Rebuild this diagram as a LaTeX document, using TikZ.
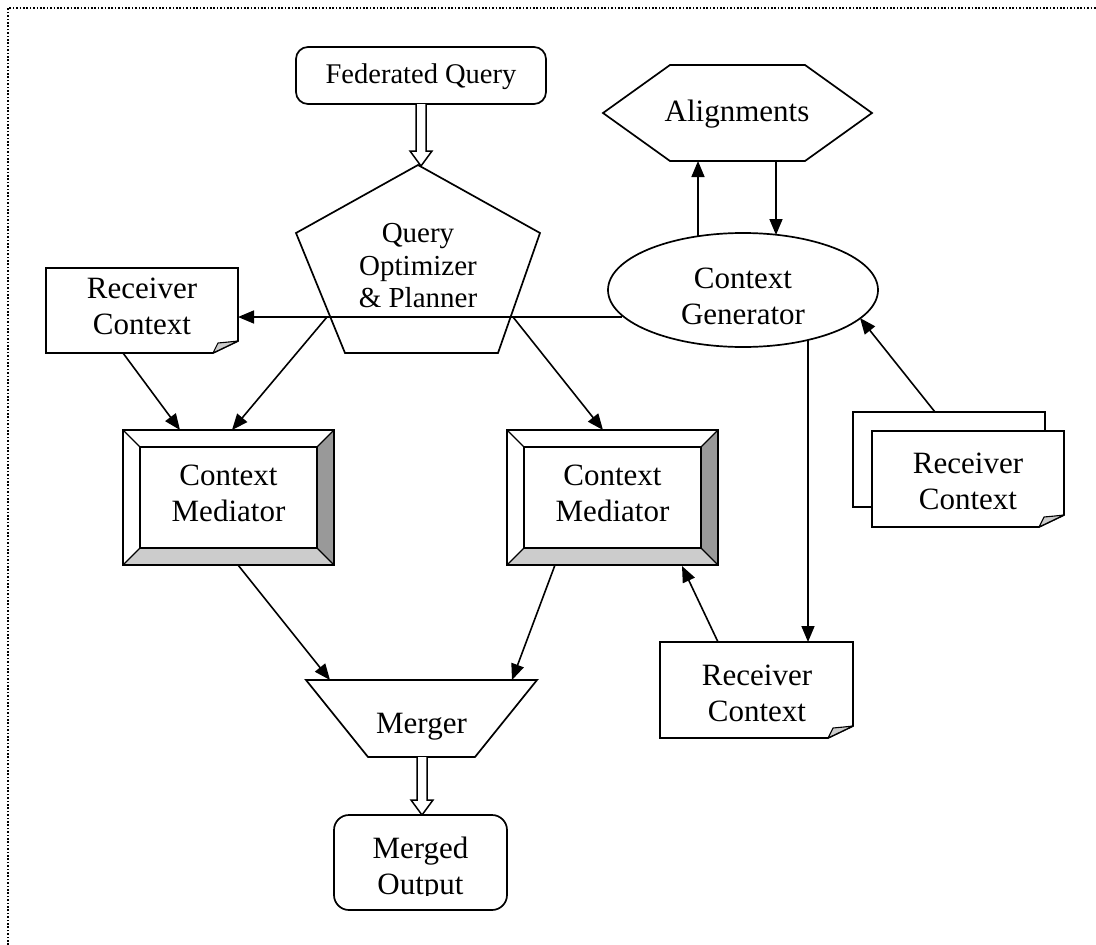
\documentclass[tikz,border=0pt]{standalone}
\usepackage{fontspec}
\setmainfont{Liberation Serif}
\usetikzlibrary{arrows.meta,calc}

\definecolor{bevdark}{gray}{0.6}
\definecolor{bevlight}{gray}{0.8}
\definecolor{foldgray}{gray}{0.8}

\tikzset{
  outline/.style={draw, line width=1.7pt, fill=white, line join=miter},
  lbl/.style={align=center, inner sep=0pt, font=\fontsize{31}{36}\selectfont},
  arr/.style={line width=1.6pt, -{Triangle[length=16pt,width=13pt]}},
  hollowtip/.style={draw, line width=1.5pt, fill=white, line join=miter},
  frame/.style={line width=1.6pt, dash pattern=on 1.6pt off 1.8pt},
}

% document symbol with a curled bottom-right corner: x1,y1,x2,y2
\newcommand\docsym[4]{%
  \filldraw[outline] (#1,#2) -- (#3,#2) -- (#3,#4-12) -- (#3-25,#4) -- (#1,#4) -- cycle;
  \filldraw[fill=foldgray, line width=1.1pt, line join=round]
    (#3-25,#4) -- (#3,#4-12) .. controls (#3-9,#4-11) .. (#3-20,#4-10) -- cycle;
}

% bevelled button frame: x1,y1,x2,y2 with a 17 unit bevel
\newcommand\bevelbox[4]{%
  \filldraw[outline] (#1,#2) rectangle (#3,#4);
  \fill[bevdark] (#3,#2) -- (#3,#4) -- (#3-17,#4-17) -- (#3-17,#2+17) -- cycle;
  \fill[bevlight] (#1,#4) -- (#3,#4) -- (#3-17,#4-17) -- (#1+17,#4-17) -- cycle;
  \draw[line width=1.7pt, line join=miter] (#1,#2) rectangle (#3,#4);
  \draw[line width=1.5pt] (#1+17,#2+17) rectangle (#3-17,#4-17);
  \draw[line width=1.3pt] (#1,#2) -- (#1+17,#2+17) (#3,#2) -- (#3-17,#2+17)
    (#1,#4) -- (#1+17,#4-17) (#3,#4) -- (#3-17,#4-17);
}

% hollow block arrow pointing down: x, y-start, y-tip
\newcommand\blockarrow[3]{%
  \filldraw[hollowtip] (#1-5,#2) -- (#1-5,#3-15) -- (#1-11,#3-15) -- (#1,#3)
    -- (#1+11,#3-15) -- (#1+5,#3-15) -- (#1+5,#2);
}

\begin{document}
\begin{tikzpicture}[x=1pt,y=-1pt]
\useasboundingbox (0,0) rectangle (1096,945);

% page frame
\draw[frame] (8,945) -- (8,8) -- (1096,8);

% Federated Query
\filldraw[outline, rounded corners=12pt] (296,47) rectangle (546,104);
\node[lbl, font=\fontsize{28.5}{33}\selectfont] (fq) at (421,77) {Federated Query};

% Query Optimizer & Planner
\filldraw[outline] (418,165) -- (540,233) -- (498,353) -- (345,353) -- (296,233) -- cycle;
\node[lbl, font=\fontsize{29}{32.5}\selectfont] (qo) at (418,266) {Query\\Optimizer\\\& Planner};
\blockarrow{421}{104}{166}

% Alignments
\filldraw[outline] (603,113) -- (670,65) -- (805,65) -- (872,113) -- (805,161) -- (670,161) -- cycle;
\node[lbl] (al) at (737,114) {Alignments};

% Context Generator
\filldraw[outline] (743,290) ellipse [x radius=135, y radius=57];
\node[lbl] (cg) at (743,296) {Context\\Generator};

% Receiver Context documents
\docsym{46}{268}{238}{353}
\node[lbl] (rc1) at (142,306) {Receiver\\Context};

\filldraw[outline] (853,412) rectangle (1045,507);
\docsym{872}{431}{1064}{527}
\node[lbl] (rc2) at (968,481) {Receiver\\Context};

\docsym{660}{642}{853}{738}
\node[lbl] (rc3) at (757,693) {Receiver\\Context};

% Context Mediators
\bevelbox{123}{430}{334}{565}
\node[lbl] (cm1) at (228.5,493) {Context\\Mediator};
\bevelbox{507}{430}{718}{565}
\node[lbl] (cm2) at (612.5,493) {Context\\Mediator};

% Merger
\filldraw[outline] (306,680) -- (537,680) -- (475,757) -- (368,757) -- cycle;
\begin{scope}
  \clip (300,680) rectangle (545,739);
  \node[lbl] (mg) at (421.5,727) {Merger};
\end{scope}
\blockarrow{422}{757}{815}

% Merged Output
\filldraw[outline, rounded corners=15pt] (334,815) rectangle (507,910);
\begin{scope}
  \clip (334,815) rectangle (507,895.5);
  \node[lbl] (mo) at (420.5,869) {Merged\\Output};
\end{scope}

% connection points
\coordinate (cg-l)  at (622,317);
\coordinate (rc1-r) at (238,317);
\coordinate (qo-bl) at (327,317);
\coordinate (qo-br) at (513,317);
\coordinate (rc1-b) at (123,353);
\coordinate (cm1-t1) at (180,430);
\coordinate (cm1-t2) at (232,430);
\coordinate (cm2-t) at (603,430);
\coordinate (cm1-b) at (238,565);
\coordinate (cm2-b) at (555,565);
\coordinate (mg-tl) at (330,680);
\coordinate (mg-tr) at (512,680);
\coordinate (cg-t1) at (698,236);
\coordinate (al-b1) at (698,161);
\coordinate (al-b2) at (776,161);
\coordinate (cg-t2) at (776,235);
\coordinate (cg-b)  at (808,340);
\coordinate (rc3-t1) at (808,642);
\coordinate (rc3-t2) at (718,642);
\coordinate (cm2-br) at (682,566);
\coordinate (rc2-t) at (935,412);
\coordinate (cg-r)  at (860,318);

% connectors
\draw[arr] (cg-l) -- (rc1-r);
\draw[arr] (qo-bl) -- (cm1-t2);
\draw[arr] (qo-br) -- (cm2-t);
\draw[arr] (rc1-b) -- (cm1-t1);
\draw[arr] (cm1-b) -- (mg-tl);
\draw[arr] (cm2-b) -- (mg-tr);
\draw[arr] (cg-t1) -- (al-b1);
\draw[arr] (al-b2) -- (cg-t2);
\draw[arr] (cg-b) -- (rc3-t1);
\draw[arr] (rc3-t2) -- (cm2-br);
\draw[arr] (rc2-t) -- (cg-r);
\end{tikzpicture}
\end{document}
